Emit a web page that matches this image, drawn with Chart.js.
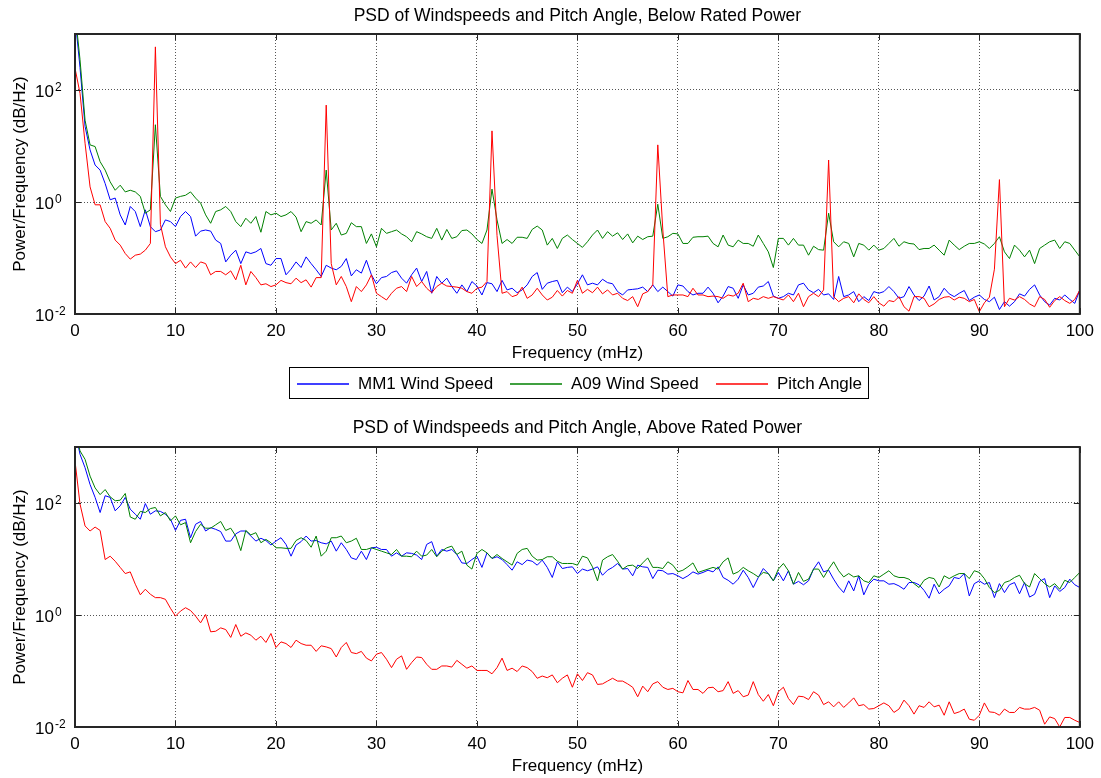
<!DOCTYPE html>
<html>
<head>
<meta charset="utf-8">
<script src="https://cdn.jsdelivr.net/npm/chart.js@4/dist/chart.umd.min.js"></script>
<style>
html,body{margin:0;padding:0;background:#fff;}
#wrap{position:relative;width:1101px;height:778px;overflow:hidden;font-family:"Liberation Sans",Arial,sans-serif;}
canvas{position:absolute;left:0;}
#c1{top:0;}
#c2{top:400px;}
#lgsvg{position:absolute;left:0;top:0;}
.lgtext{position:absolute;top:374px;font-size:17px;line-height:20px;color:#000;white-space:nowrap;}
</style>
</head>
<body>
<div id="wrap">
  <canvas id="c1" width="1101" height="362"></canvas>
  <canvas id="c2" width="1101" height="375"></canvas>
  <svg id="lgsvg" width="1101" height="778" xmlns="http://www.w3.org/2000/svg">
    <rect x="289.5" y="367.5" width="579" height="31" fill="none" stroke="#000" stroke-width="1"/>
    <line x1="297" y1="384" x2="349" y2="384" stroke="#0000ff" stroke-width="1.4"/>
    <line x1="510" y1="384" x2="562" y2="384" stroke="#008000" stroke-width="1.4"/>
    <line x1="716" y1="384" x2="768" y2="384" stroke="#ff0000" stroke-width="1.4"/>
  </svg>
  <div class="lgtext" style="left:358px">MM1 Wind Speed</div>
  <div class="lgtext" style="left:571px">A09 Wind Speed</div>
  <div class="lgtext" style="left:777px">Pitch Angle</div>
</div>
<script>
// ---------- DATA (values are log10 of PSD) ----------
const seriesNames = ['MM1 Wind Speed', 'A09 Wind Speed', 'Pitch Angle'];
const xTicks = [0,10,20,30,40,50,60,70,80,90,100];
const yTickValues = [0.01, 1, 100];
const yTickExponents = ['-2', '0', '2'];
// frequency bins 0..100 mHz, 0.5 mHz apart
const freqs = Array.from({length: 201}, (_, i) => i * 0.5);

// Below rated power
const mm1Below = [3.3,2.4,1.35,0.93,0.66,0.57,0.33,0.04,0.07,-0.23,
-0.41,-0.08,-0.17,-0.44,-0.14,-0.44,-0.53,-0.5,-0.32,-0.35,
-0.44,-0.26,-0.17,-0.26,-0.61,-0.52,-0.5,-0.52,-0.68,-0.74,
-1.07,-0.95,-0.86,-1.1,-0.89,-0.92,-0.89,-0.83,-1.1,-1.13,
-1.01,-1.01,-1.3,-1.2,-1.07,-1.17,-0.98,-1.1,-1.21,-1.33,
-1.13,-1.18,-1.21,-1.15,-1.01,-1.32,-1.21,-1.27,-1.04,-1.3,
-1.46,-1.35,-1.33,-1.26,-1.23,-1.36,-1.45,-1.3,-1.18,-1.42,
-1.24,-1.63,-1.33,-1.45,-1.36,-1.51,-1.63,-1.48,-1.6,-1.42,
-1.5,-1.66,-1.44,-1.46,-1.6,-1.4,-1.57,-1.54,-1.62,-1.57,
-1.48,-1.33,-1.26,-1.56,-1.45,-1.42,-1.4,-1.62,-1.52,-1.6,
-1.46,-1.3,-1.48,-1.45,-1.48,-1.38,-1.44,-1.46,-1.6,-1.66,
-1.57,-1.56,-1.55,-1.52,-1.6,-1.48,-1.6,-1.52,-1.6,-1.68,
-1.48,-1.5,-1.6,-1.66,-1.63,-1.63,-1.52,-1.63,-1.8,-1.68,
-1.51,-1.54,-1.72,-1.48,-1.66,-1.63,-1.52,-1.5,-1.42,-1.68,
-1.72,-1.69,-1.63,-1.66,-1.48,-1.45,-1.57,-1.62,-1.56,-1.66,
-1.64,-1.74,-1.33,-1.69,-1.66,-1.6,-1.78,-1.69,-1.76,-1.6,
-1.63,-1.6,-1.51,-1.6,-1.72,-1.69,-1.51,-1.66,-1.76,-1.68,
-1.5,-1.75,-1.69,-1.54,-1.64,-1.69,-1.63,-1.58,-1.76,-1.7,
-1.66,-1.74,-1.78,-1.7,-1.92,-1.78,-1.86,-1.78,-1.64,-1.68,
-1.56,-1.48,-1.66,-1.78,-1.84,-1.72,-1.75,-1.66,-1.74,-1.81,
-1.57];

const a09Below = [3.4,2.54,1.46,1.02,0.99,0.72,0.57,0.36,0.21,0.3,
0.18,0.21,0.18,0.1,-0.2,-0.14,1.38,0.1,-0.05,-0.17,
0.07,0.1,0.12,0.18,0.07,-0.02,-0.23,-0.38,-0.17,-0.14,
-0.08,-0.17,-0.35,-0.44,-0.29,-0.38,-0.26,-0.54,-0.17,-0.23,
-0.2,-0.26,-0.23,-0.17,-0.27,-0.53,-0.35,-0.38,-0.32,-0.41,
0.57,-0.5,-0.38,-0.59,-0.56,-0.37,-0.44,-0.44,-0.74,-0.57,
-0.8,-0.47,-0.56,-0.53,-0.5,-0.57,-0.62,-0.71,-0.53,-0.57,
-0.62,-0.65,-0.47,-0.68,-0.49,-0.65,-0.62,-0.51,-0.5,-0.57,
-0.67,-0.74,-0.5,0.23,-0.32,-0.74,-0.67,-0.74,-0.63,-0.63,
-0.65,-0.49,-0.43,-0.5,-0.77,-0.65,-0.83,-0.65,-0.59,-0.67,
-0.74,-0.81,-0.71,-0.59,-0.5,-0.65,-0.53,-0.61,-0.55,-0.67,
-0.57,-0.73,-0.61,-0.67,-0.62,-0.61,-0.04,-0.65,-0.62,-0.56,
-0.57,-0.74,-0.74,-0.63,-0.62,-0.62,-0.61,-0.74,-0.8,-0.59,
-0.77,-0.8,-0.68,-0.74,-0.74,-0.79,-0.59,-0.74,-0.89,-1.17,
-0.65,-0.65,-0.77,-0.65,-0.77,-0.77,-0.95,-0.79,-0.85,-0.86,
-0.2,-0.71,-0.8,-0.71,-0.74,-0.98,-0.74,-0.77,-0.86,-0.77,
-0.86,-0.83,-0.74,-0.65,-0.79,-0.71,-0.74,-0.75,-0.85,-0.83,
-0.83,-0.77,-0.86,-0.95,-0.68,-0.77,-0.85,-0.79,-0.74,-0.74,
-0.71,-0.75,-0.83,-0.74,-0.62,-0.89,-1.01,-0.77,-0.86,-0.98,
-0.86,-1.1,-0.83,-0.77,-0.71,-0.68,-0.83,-0.71,-0.74,-0.86,
-0.98];

const pitchBelow = [2.39,1.94,1.05,0.27,-0.05,-0.05,-0.35,-0.47,-0.68,-0.77,
-0.92,-1.02,-0.95,-0.93,-0.86,-0.74,2.77,-0.4,-0.8,-0.98,
-1.1,-1.04,-1.18,-1.07,-1.17,-1.07,-1.1,-1.3,-1.24,-1.24,
-1.3,-1.23,-1.39,-1.13,-1.48,-1.24,-1.35,-1.48,-1.46,-1.51,
-1.48,-1.4,-1.44,-1.46,-1.36,-1.44,-1.39,-1.52,-1.35,-1.35,
1.73,-1.1,-1.48,-1.33,-1.51,-1.78,-1.51,-1.6,-1.48,-1.3,
-1.63,-1.69,-1.75,-1.63,-1.54,-1.51,-1.6,-1.33,-1.51,-1.42,
-1.54,-1.62,-1.51,-1.45,-1.5,-1.51,-1.52,-1.54,-1.6,-1.63,
-1.54,-1.52,-1.42,1.27,-0.6,-1.63,-1.6,-1.69,-1.66,-1.52,
-1.72,-1.66,-1.54,-1.66,-1.75,-1.7,-1.58,-1.68,-1.58,-1.63,
-1.4,-1.63,-1.56,-1.62,-1.52,-1.64,-1.57,-1.66,-1.63,-1.72,
-1.76,-1.69,-1.87,-1.64,-1.6,-1.48,1.02,-0.5,-1.69,-1.66,
-1.66,-1.66,-1.69,-1.54,-1.66,-1.66,-1.69,-1.68,-1.69,-1.72,
-1.66,-1.68,-1.63,-1.45,-1.78,-1.72,-1.74,-1.69,-1.72,-1.69,
-1.72,-1.75,-1.66,-1.78,-1.63,-1.87,-1.69,-1.63,-1.69,-1.57,
0.75,-1.69,-1.78,-1.72,-1.69,-1.8,-1.64,-1.74,-1.8,-1.69,
-1.8,-1.86,-1.76,-1.78,-1.69,-1.87,-1.95,-1.69,-1.69,-1.72,
-1.87,-1.82,-1.74,-1.7,-1.69,-1.75,-1.7,-1.72,-1.78,-1.74,
-1.96,-1.8,-1.7,-1.2,0.4,-1.87,-1.72,-1.75,-1.69,-1.74,
-1.82,-1.87,-1.69,-1.74,-1.88,-1.76,-1.69,-1.76,-1.81,-1.74,
-1.57];

// Above rated power
const mm1Above = [3.3,2.87,2.63,2.33,2.1,1.83,2.13,2.1,1.86,1.95,
2.1,1.89,1.8,1.71,1.99,1.8,1.86,1.85,1.8,1.71,
1.51,1.69,1.71,1.38,1.62,1.67,1.5,1.56,1.53,1.49,
1.32,1.32,1.45,1.5,1.5,1.41,1.32,1.37,1.33,1.25,
1.32,1.38,1.26,1.05,1.25,1.31,1.41,1.32,1.33,1.29,
1.27,1.32,1.14,1.29,1.17,1.02,0.99,1.14,0.99,1.2,
1.21,1.17,1.17,1.05,1.11,1.05,1.11,1.1,1.07,0.99,
1.26,1.31,1.05,1.17,1.14,1.17,1.08,0.93,0.92,0.99,
1.05,0.85,1.11,1.01,1.04,0.99,0.9,0.8,0.95,0.9,
0.98,0.96,0.89,0.98,0.85,0.67,0.95,0.83,0.85,0.86,
0.74,0.82,0.79,0.82,0.86,0.71,0.8,0.85,0.92,0.82,
0.83,0.7,0.89,0.86,0.85,0.65,0.8,0.79,0.73,0.74,
0.7,0.65,0.7,0.77,0.73,0.76,0.8,0.77,0.86,0.67,
0.62,0.55,0.64,0.8,0.67,0.49,0.67,0.83,0.74,0.61,
0.76,0.61,0.79,0.55,0.6,0.54,0.61,0.82,0.95,0.77,
0.8,0.64,0.5,0.4,0.61,0.43,0.7,0.36,0.55,0.64,
0.61,0.61,0.55,0.56,0.52,0.46,0.58,0.58,0.54,0.44,
0.3,0.55,0.38,0.46,0.52,0.67,0.65,0.74,0.34,0.56,
0.61,0.55,0.58,0.31,0.56,0.4,0.54,0.58,0.38,0.58,
0.32,0.37,0.6,0.65,0.31,0.52,0.42,0.49,0.64,0.54,
0.49];

const a09Above = [3.3,2.93,2.78,2.48,2.27,2.15,2.24,2.11,2.04,2.05,
2.17,1.75,1.71,1.85,1.83,1.9,1.92,1.77,1.83,1.68,
1.77,1.61,1.65,1.29,1.49,1.62,1.55,1.55,1.61,1.67,
1.51,1.55,1.41,1.15,1.51,1.43,1.47,1.29,1.35,1.29,
1.2,1.2,1.19,1.19,1.33,1.38,1.33,1.21,1.41,1.05,
1.14,1.38,1.38,1.41,1.29,1.32,1.37,1.17,1.17,1.2,
1.17,1.14,1.11,1.08,1.17,1.05,1.05,1.04,1.14,1.05,
1.07,1.17,1.04,1.14,1.2,1.23,1.08,1.14,0.89,0.82,
1.1,1.17,1.11,1.01,1.08,1.01,0.95,0.89,1.1,1.17,
1.19,1.05,0.98,0.99,1.04,1.04,0.96,0.92,0.92,0.92,
0.89,1.05,1.02,0.86,0.61,0.98,1.04,1.08,0.96,0.82,
0.88,0.89,0.83,0.93,1.02,0.85,0.85,0.83,0.95,0.89,
0.77,0.8,0.86,0.93,0.76,0.79,0.82,0.85,0.82,0.95,
1.02,0.73,0.77,0.85,0.79,0.74,0.68,0.76,0.74,0.61,
0.82,0.92,0.79,0.55,0.76,0.6,0.64,0.82,0.82,0.67,
0.82,0.95,0.79,0.68,0.74,0.68,0.7,0.61,0.58,0.7,
0.67,0.73,0.79,0.7,0.67,0.67,0.64,0.56,0.49,0.62,
0.67,0.65,0.5,0.7,0.65,0.7,0.74,0.74,0.65,0.79,
0.76,0.65,0.49,0.4,0.44,0.58,0.61,0.67,0.71,0.56,
0.5,0.74,0.65,0.56,0.5,0.56,0.46,0.62,0.58,0.67,
0.76];

const pitchAbove = [2.75,1.98,1.59,1.5,1.57,1.51,0.99,1.05,0.96,0.85,
0.74,0.77,0.55,0.36,0.46,0.37,0.31,0.31,0.28,0.12,
-0.02,0.07,0.13,0.08,-0.02,-0.14,0.01,-0.3,-0.29,-0.23,
-0.26,-0.4,-0.17,-0.38,-0.32,-0.36,-0.45,-0.38,-0.49,-0.33,
-0.58,-0.48,-0.51,-0.58,-0.45,-0.51,-0.54,-0.54,-0.65,-0.55,
-0.57,-0.6,-0.75,-0.58,-0.49,-0.67,-0.69,-0.65,-0.77,-0.82,
-0.7,-0.67,-0.79,-0.94,-0.79,-0.73,-0.97,-0.85,-0.75,-0.76,
-0.88,-0.97,-0.97,-0.91,-0.91,-0.93,-0.81,-0.88,-0.95,-0.91,
-0.99,-0.99,-0.99,-1.05,-0.94,-0.77,-0.99,-0.95,-1.01,-0.91,
-0.94,-1.01,-1.13,-1.09,-1.12,-1.07,-1.21,-1.13,-1.07,-1.29,
-1.05,-1.17,-1.03,-1.07,-1.24,-1.23,-1.18,-1.13,-1.18,-1.18,
-1.23,-1.29,-1.46,-1.27,-1.37,-1.23,-1.19,-1.29,-1.33,-1.31,
-1.37,-1.39,-1.17,-1.33,-1.33,-1.4,-1.3,-1.29,-1.37,-1.35,
-1.19,-1.4,-1.35,-1.46,-1.43,-1.19,-1.42,-1.54,-1.42,-1.62,
-1.37,-1.29,-1.49,-1.6,-1.45,-1.46,-1.51,-1.37,-1.43,-1.6,
-1.55,-1.64,-1.55,-1.65,-1.57,-1.48,-1.62,-1.6,-1.68,-1.67,
-1.62,-1.57,-1.62,-1.74,-1.68,-1.52,-1.62,-1.77,-1.62,-1.65,
-1.55,-1.64,-1.61,-1.79,-1.55,-1.76,-1.73,-1.68,-1.86,-1.88,
-1.79,-1.57,-1.73,-1.74,-1.79,-1.68,-1.74,-1.74,-1.65,-1.68,
-1.68,-1.65,-1.7,-1.95,-1.82,-1.85,-2.0,-1.83,-1.83,-1.88,
-1.92];

// ---------- CHART ----------
const FONT = '"Liberation Sans", Arial, sans-serif';
const seriesColors = ['#0000ff', '#008000', '#ff0000'];

function toPoints(logVals) {
  return freqs.map((f, i) => ({x: f, y: Math.pow(10, logVals[i])}));
}

const framePlugin = {
  id: 'frame',
  afterDatasetsDraw(chart) {
    const {ctx, chartArea: a, scales} = chart;
    ctx.save();
    ctx.strokeStyle = '#262626';
    ctx.lineWidth = 1;
    ctx.beginPath();
    xTicks.forEach(v => {
      const px = Math.round(scales.x.getPixelForValue(v)) + 0.5;
      ctx.moveTo(px, a.bottom); ctx.lineTo(px, a.bottom - 6);
      ctx.moveTo(px, a.top); ctx.lineTo(px, a.top + 6);
    });
    yTickValues.forEach(v => {
      const py = Math.round(scales.y.getPixelForValue(v)) + 0.5;
      ctx.moveTo(a.left, py); ctx.lineTo(a.left + 6, py);
      ctx.moveTo(a.right, py); ctx.lineTo(a.right - 6, py);
    });
    ctx.stroke();
    ctx.lineWidth = 2;
    ctx.strokeRect(a.left, a.top, a.right - a.left, a.bottom - a.top);
    ctx.restore();
  },
  afterDraw(chart) {
    const {ctx, scales} = chart;
    ctx.save();
    ctx.fillStyle = '#000';
    yTickValues.forEach((v, i) => {
      const py = scales.y.getPixelForValue(v);
      ctx.font = '17px ' + FONT;
      ctx.textAlign = 'right';
      ctx.textBaseline = 'middle';
      ctx.fillText('10', 54, py + 2);
      ctx.font = '12px ' + FONT;
      ctx.textAlign = 'left';
      ctx.textBaseline = 'alphabetic';
      ctx.fillText(yTickExponents[i], 55, py + 1);
    });
    ctx.restore();
  }
};

function makeChart(canvasId, title, titlePad, mm1, a09, pitch) {
  const series = [mm1, a09, pitch];
  return new Chart(document.getElementById(canvasId), {
    type: 'line',
    data: {
      datasets: series.map((vals, i) => ({
        label: seriesNames[i],
        data: toPoints(vals),
        borderColor: seriesColors[i],
        backgroundColor: seriesColors[i],
        borderWidth: 1,
        pointRadius: 0,
        tension: 0,
        fill: false,
        order: 2 - i
      }))
    },
    options: {
      responsive: false,
      animation: false,
      devicePixelRatio: 1,
      layout: {padding: {left: 0, right: 21, top: 0, bottom: 0}},
      plugins: {
        legend: {display: false},
        tooltip: {enabled: false},
        title: {
          display: true, text: title, color: '#000', fullSize: false,
          font: {family: FONT, size: 17.5, weight: 'normal', lineHeight: 1.2},
          padding: titlePad
        }
      },
      scales: {
        x: {
          type: 'linear', min: 0, max: 100,
          afterBuildTicks: s => { s.ticks = xTicks.map(v => ({value: v})); },
          ticks: {color: '#000', font: {family: FONT, size: 17}, padding: 7, maxRotation: 0, autoSkip: false},
          grid: {color: '#555', lineWidth: 1, drawTicks: false},
          border: {display: false, dash: [1, 2]},
          title: {display: true, text: 'Frequency (mHz)', color: '#000',
                  font: {family: FONT, size: 17, lineHeight: 1}, padding: {top: 0, bottom: 0}},
          afterFit: s => { s.height = 48; }
        },
        y: {
          type: 'logarithmic', min: 0.01, max: 1000,
          afterBuildTicks: s => { s.ticks = yTickValues.map(v => ({value: v})); },
          ticks: {display: false},
          grid: {color: '#555', lineWidth: 1, drawTicks: false},
          border: {display: false, dash: [1, 2]},
          title: {display: true, text: 'Power/Frequency (dB/Hz)', color: '#000',
                  font: {family: FONT, size: 17, lineHeight: 1.2}, padding: {top: 10, bottom: 0}},
          afterFit: s => { s.width = 75; }
        }
      }
    },
    plugins: [framePlugin]
  });
}

makeChart('c1', 'PSD of Windspeeds and Pitch Angle, Below Rated Power', {top: 6, bottom: 7},
          mm1Below, a09Below, pitchBelow);
makeChart('c2', 'PSD of Windspeeds and Pitch Angle, Above Rated Power', {top: 17.5, bottom: 8.5},
          mm1Above, a09Above, pitchAbove);
</script>
</body>
</html>
